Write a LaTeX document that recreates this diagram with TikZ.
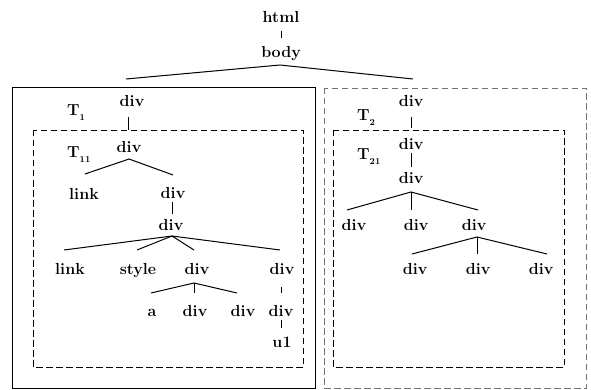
\documentclass[tikz,border=0pt]{standalone}
\usepackage{fontspec}
\setmainfont{Latin Modern Roman}
\usetikzlibrary{calc}
\begin{document}
\begin{tikzpicture}[x=1pt,y=-1pt,
  tn/.style={inner sep=0pt, anchor=base, font=\fontsize{16}{18}\selectfont\bfseries},
  tl/.style={inner sep=0pt, anchor=base west, font=\fontsize{16}{18}\selectfont\bfseries},
  edge/.style={line width=1pt},
  dbox/.style={line width=0.8pt, dash pattern=on 6.5pt off 3.5pt},
  gbox/.style={line width=0.8pt, dash pattern=on 6.5pt off 3.5pt, draw=black!55},
  sbox/.style={line width=1pt}]
\newcommand{\subl}[1]{\raisebox{-4.5pt}{\fontsize{9}{9}\selectfont\bfseries #1}}
\useasboundingbox (0,0) rectangle (591,390);
% boxes
\draw[sbox] (12,88) rectangle (315,388);
\draw[dbox] (33,130) rectangle (303,367);
\draw[gbox] (324,88) rectangle (586,388);
\draw[dbox] (333,130) rectangle (564,367);
% labels
\node[tl] (T1) at (67,116) {T\subl{1}};
\node[tl] (T11) at (67,158) {T\subl{11}};
\node[tl] (T2) at (357,121) {T\subl{2}};
\node[tl] (T21) at (357,160) {T\subl{21}};
% nodes
\node[tn] (html) at (281,23) {html};
\node[tn] (body) at (281,58) {body};
\node[tn] (d1) at (132,107) {div};
\node[tn] (d2) at (129,153) {div};
\node[tn] (l1) at (84,200) {link};
\node[tn] (d3) at (173,198) {div};
\node[tn] (d4) at (171,230) {div};
\node[tn] (l2) at (70,274) {link};
\node[tn] (s1) at (138,274) {style};
\node[tn] (d5) at (197,274) {div};
\node[tn] (d6) at (282,274) {div};
\node[tn] (a1) at (152,316) {a};
\node[tn] (d7) at (195,316) {div};
\node[tn] (d8) at (243,316) {div};
\node[tn] (d9) at (281,316) {div};
\node[tn] (u1) at (282,347) {u1};
\node[tn] (e1) at (411,107) {div};
\node[tn] (e2) at (411,150) {div};
\node[tn] (e3) at (411,183) {div};
\node[tn] (e4) at (354,230) {div};
\node[tn] (e5) at (416,230) {div};
\node[tn] (e6) at (474,230) {div};
\node[tn] (e7) at (415,274) {div};
\node[tn] (e8) at (478,274) {div};
\node[tn] (e9) at (541,274) {div};
% edges
\draw[edge] ([yshift=-8pt]html.base) -- ([yshift=20pt]body.base);
\draw[edge] ([xshift=-6pt,yshift=28pt]d1.base) -- ([xshift=-1pt,yshift=-7pt]body.base) -- ([xshift=2pt,yshift=28pt]e1.base);
\draw[edge] ([xshift=-4pt,yshift=-10pt]d1.base) -- ([xshift=-1pt,yshift=23pt]d2.base);
\draw[edge] ([xshift=1pt,yshift=26pt]l1.base) -- ([yshift=-6pt]d2.base) -- ([yshift=23pt]d3.base);
\draw[edge] ([xshift=-1pt,yshift=-4pt]d3.base) -- ([xshift=1pt,yshift=16pt]d4.base);
\draw[edge] ([xshift=1pt,yshift=-6pt]d4.base) -- ([xshift=-6pt,yshift=24pt]l2.base);
\draw[edge] ([xshift=1pt,yshift=-6pt]d4.base) -- ([xshift=-1pt,yshift=24pt]s1.base);
\draw[edge] ([xshift=1pt,yshift=-6pt]d4.base) -- ([xshift=-3pt,yshift=24pt]d5.base);
\draw[edge] ([xshift=1pt,yshift=-6pt]d4.base) -- ([xshift=-2pt,yshift=24pt]d6.base);
\draw[edge] ([xshift=-1pt,yshift=23pt]a1.base) -- ([xshift=-3pt,yshift=-9pt]d5.base) -- ([xshift=-6pt,yshift=23pt]d8.base);
\draw[edge] ([xshift=-3pt,yshift=-9pt]d5.base) -- ([xshift=-1pt,yshift=23pt]d7.base);
\draw[edge] ([xshift=-1pt,yshift=-13pt]d6.base) -- ([yshift=23pt]d9.base);
\draw[edge] ([yshift=-4pt]d9.base) -- ([xshift=-1pt,yshift=19pt]u1.base);
\draw[edge] ([yshift=-10pt]e1.base) -- ([yshift=22pt]e2.base);
\draw[edge] ([yshift=-3pt]e2.base) -- ([yshift=16pt]e3.base);
\draw[edge] ([xshift=-7pt,yshift=20pt]e4.base) -- ([yshift=-9pt]e3.base) -- ([xshift=4pt,yshift=20pt]e6.base);
\draw[edge] ([yshift=-9pt]e3.base) -- ([xshift=-5pt,yshift=20pt]e5.base);
\draw[edge] ([xshift=-3pt,yshift=20pt]e7.base) -- ([xshift=3pt,yshift=-7pt]e6.base) -- ([xshift=6pt,yshift=20pt]e9.base);
\draw[edge] ([xshift=3pt,yshift=-7pt]e6.base) -- ([xshift=-1pt,yshift=20pt]e8.base);
\end{tikzpicture}
\end{document}
